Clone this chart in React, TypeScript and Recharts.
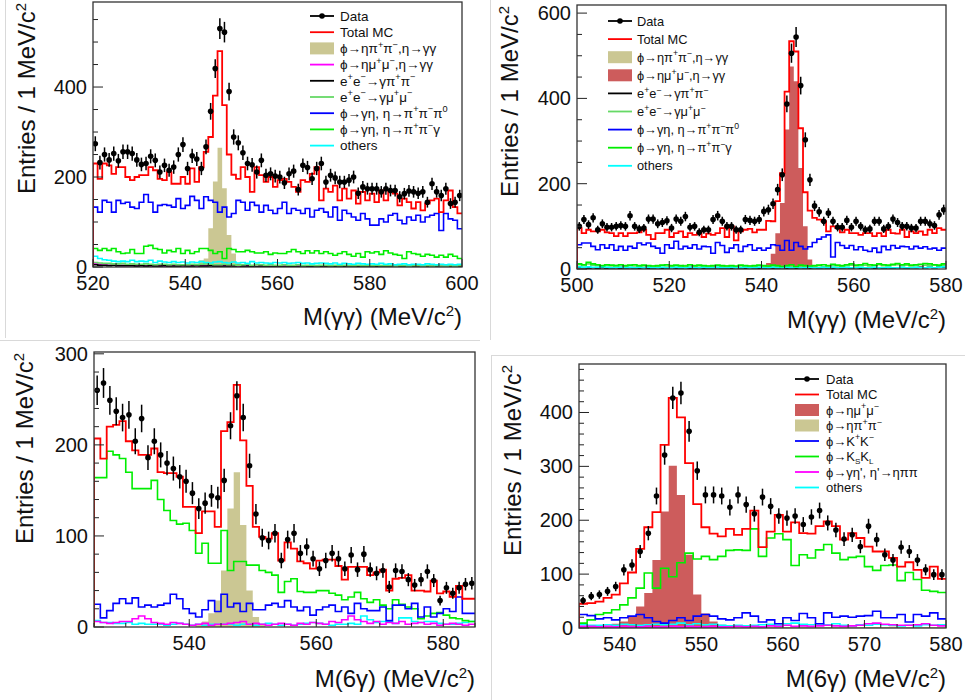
import React from "react";
import { Area, ComposedChart, ErrorBar, Line, Scatter, XAxis, YAxis } from "recharts";

const FONT = '"Liberation Sans", Arial, Helvetica, sans-serif';
const RED = "#ff0000";
const BLUE = "#0000ff";
const GREEN = "#00ee00";
const LTGREEN = "#66d966";
const CYAN = "#00ffff";
const MAGENTA = "#ff00ff";
const KHAKI = "#cbc793";
const REDFILL = "#cd5c5c";

// ---- panel 1: M(γγ), 520-600, 1 MeV bins ----
const p1Data = [
  274, 232, 250, 238, 252, 236, 256, 256, 252, 238,
  228, 230, 246, 237, 211, 226, 215, 222, 250, 272,
  219, 247, 240, 219, 267, 346, 441, 530, 522, 390,
  289, 276, 254, 230, 227, 211, 237, 204, 207, 202,
  200, 187, 207, 213, 172, 226, 221, 196, 219, 230,
  189, 204, 198, 189, 189, 193, 200, 164, 178, 174,
  174, 174, 167, 174, 170, 170, 156, 163, 169, 167,
  164, 167, 144, 185, 167, 159, 174, 141, 144, 159,
];
const p1Total = [
  230, 196, 230, 226, 207, 222, 222, 200, 193, 200,
  204, 204, 222, 215, 196, 193, 211, 185, 185, 200,
  185, 219, 189, 222, 256, 289, 381, 480, 360, 250,
  205, 196, 222, 200, 167, 222, 204, 189, 200, 178,
  193, 196, 189, 178, 167, 193, 189, 207, 222, 148,
  174, 167, 181, 148, 174, 152, 170, 141, 167, 148,
  163, 144, 170, 148, 167, 163, 137, 152, 144, 130,
  144, 126, 141, 148, 152, 122, 148, 170, 133, 119,
];
const p1Blue = [
  133, 122, 148, 144, 122, 148, 141, 144, 133, 130,
  144, 161, 144, 122, 137, 139, 137, 133, 152, 130,
  137, 157, 148, 130, 156, 148, 144, 122, 133, 111,
  119, 148, 144, 126, 144, 137, 122, 137, 126, 119,
  130, 144, 119, 130, 126, 119, 130, 111, 126, 130,
  122, 111, 133, 104, 126, 119, 111, 104, 119, 107,
  93, 93, 107, 100, 115, 119, 104, 96, 111, 104,
  115, 100, 111, 115, 119, 81, 119, 107, 104, 85,
];
const p1Green = [
  41, 37, 41, 37, 41, 34, 30, 31, 39, 30,
  30, 46, 48, 41, 39, 31, 37, 34, 41, 30,
  37, 30, 34, 41, 41, 37, 30, 34, 19, 41,
  39, 34, 34, 37, 34, 31, 31, 34, 28, 31,
  30, 30, 34, 39, 34, 30, 36, 31, 36, 30,
  34, 30, 26, 30, 34, 28, 24, 30, 22, 34,
  31, 34, 28, 36, 31, 28, 26, 19, 34, 30,
  28, 24, 28, 26, 22, 26, 22, 28, 24, 19,
];
const p1Cyan = [
  24, 19, 16, 15, 13, 12, 13, 12, 15, 12,
  13, 12, 15, 10, 13, 11, 10, 12, 10, 11,
  9, 11, 10, 12, 10, 9, 11, 12, 10, 9,
  11, 9, 10, 8, 12, 9, 10, 9, 8, 10,
  9, 10, 8, 9, 10, 8, 9, 7, 8, 9,
  8, 7, 9, 6, 8, 7, 6, 8, 7, 6,
  7, 6, 8, 6, 7, 5, 6, 7, 5, 6,
  6, 5, 7, 6, 5, 6, 5, 6, 5, 6,
];
const p1LtGreen = [
  10, 9, 8, 8, 7, 7, 8, 6, 7, 6,
  6, 7, 6, 5, 6, 6, 5, 6, 5, 5,
  5, 6, 5, 6, 7, 6, 5, 5, 6, 5,
  5, 4, 5, 6, 4, 5, 5, 4, 5, 4,
  4, 5, 4, 4, 5, 3, 4, 4, 3, 4,
  4, 3, 4, 3, 4, 3, 3, 4, 3, 3,
  3, 4, 3, 3, 3, 2, 3, 3, 2, 3,
  3, 2, 3, 2, 3, 2, 2, 3, 2, 3,
];
const p1Black = [
  5, 4, 4, 3, 4, 3, 3, 3, 3, 2,
  3, 2, 3, 2, 2, 3, 2, 2, 2, 3,
  2, 2, 3, 2, 2, 3, 2, 2, 2, 2,
  2, 3, 2, 2, 2, 1, 2, 2, 1, 2,
  2, 1, 2, 2, 1, 2, 1, 2, 1, 1,
  2, 1, 1, 2, 1, 1, 2, 1, 1, 1,
  1, 1, 2, 1, 1, 1, 1, 2, 1, 1,
  1, 1, 1, 1, 2, 1, 1, 1, 1, 1,
];
const p1Magenta = [
  8, 6, 5, 4, 4, 3, 3, 3, 3, 2,
  3, 2, 2, 3, 2, 2, 2, 2, 2, 2,
  2, 2, 2, 2, 3, 3, 3, 3, 3, 2,
  2, 2, 2, 2, 2, 1, 2, 2, 1, 2,
  1, 2, 1, 1, 2, 1, 1, 1, 1, 1,
  1, 1, 1, 1, 1, 1, 1, 1, 1, 1,
  1, 1, 1, 1, 1, 1, 1, 1, 1, 1,
  1, 1, 1, 1, 1, 1, 1, 1, 1, 1,
];
const p1Khaki = [3, 5, 8, 15, 19, 86, 190, 265, 175, 71, 30, 8, 3]; // from 540

// ---- panel 2: M(γγ), 500-580 ----
const p2Data = [
  100, 116, 104, 120, 92, 106, 98, 98, 100, 102,
  100, 125, 100, 94, 96, 117, 117, 106, 109, 113,
  96, 117, 112, 123, 98, 100, 86, 92, 92, 116,
  125, 112, 100, 100, 92, 92, 116, 114, 112, 116,
  135, 139, 153, 186, 221, 387, 506, 544, 430, 303,
  209, 148, 134, 112, 131, 112, 98, 98, 114, 98,
  112, 100, 92, 94, 112, 112, 94, 100, 117, 109,
  100, 100, 96, 96, 112, 112, 106, 102, 127, 139,
];
const p2Total = [
  96, 84, 92, 88, 88, 92, 86, 84, 77, 84,
  77, 84, 84, 86, 92, 80, 70, 84, 84, 92,
  75, 84, 88, 75, 84, 80, 84, 75, 83, 80,
  84, 96, 75, 100, 67, 88, 92, 94, 86, 92,
  92, 113, 112, 159, 225, 416, 534, 510, 330, 180,
  137, 120, 116, 112, 88, 100, 96, 86, 92, 84,
  84, 80, 84, 84, 77, 84, 77, 92, 84, 83,
  92, 75, 88, 84, 88, 80, 92, 84, 96, 92,
];
const p2Blue = [
  57, 61, 61, 53, 45, 57, 49, 57, 44, 53,
  44, 53, 49, 61, 57, 61, 53, 49, 37, 57,
  49, 65, 47, 53, 49, 57, 47, 53, 52, 37,
  62, 55, 39, 49, 57, 41, 53, 57, 44, 49,
  44, 49, 57, 55, 44, 67, 44, 62, 53, 47,
  52, 62, 70, 75, 80, 28, 62, 55, 49, 55,
  45, 52, 44, 41, 49, 39, 53, 45, 55, 49,
  53, 52, 47, 53, 49, 52, 47, 49, 44, 49,
];
const p2Green = [
  12, 10, 16, 12, 10, 8, 10, 9, 8, 10,
  8, 9, 10, 8, 9, 8, 7, 8, 9, 10,
  8, 9, 8, 7, 10, 8, 9, 8, 7, 8,
  9, 8, 7, 8, 7, 9, 8, 7, 8, 9,
  8, 7, 9, 8, 6, 8, 10, 6, 9, 8,
  7, 8, 9, 10, 8, 11, 9, 8, 10, 12,
  9, 10, 13, 10, 9, 12, 10, 9, 11, 13,
  10, 12, 9, 10, 11, 13, 12, 10, 9, 12,
];
const p2LtGreen = [
  10, 8, 12, 9, 8, 7, 8, 7, 8, 7,
  6, 8, 7, 6, 7, 6, 7, 6, 8, 7,
  6, 7, 6, 8, 7, 6, 7, 6, 7, 6,
  7, 6, 7, 6, 5, 7, 6, 7, 6, 7,
  6, 7, 6, 5, 6, 7, 6, 5, 7, 6,
  6, 7, 8, 6, 7, 8, 7, 6, 8, 9,
  7, 8, 9, 7, 8, 10, 8, 7, 9, 10,
  8, 9, 7, 8, 10, 9, 8, 9, 7, 9,
];
const p2Cyan = [
  5, 4, 5, 4, 4, 5, 4, 3, 4, 4,
  3, 4, 3, 4, 3, 4, 3, 3, 4, 3,
  3, 4, 3, 3, 4, 3, 3, 4, 3, 3,
  4, 3, 3, 4, 3, 3, 4, 3, 3, 4,
  3, 3, 4, 3, 3, 4, 3, 4, 3, 3,
  4, 3, 3, 4, 3, 4, 3, 3, 4, 3,
  3, 4, 3, 3, 4, 3, 3, 4, 3, 3,
  4, 3, 3, 4, 3, 3, 4, 3, 4, 5,
];
const p2Black = [
  3, 3, 2, 3, 2, 3, 2, 2, 3, 2,
  2, 3, 2, 2, 3, 2, 2, 3, 2, 2,
  3, 2, 2, 3, 2, 2, 3, 2, 2, 2,
  3, 2, 2, 2, 3, 2, 2, 3, 2, 2,
  2, 3, 2, 2, 3, 2, 2, 2, 3, 2,
  2, 3, 2, 3, 2, 2, 3, 2, 3, 2,
  3, 2, 2, 3, 2, 3, 2, 3, 2, 3,
  3, 2, 3, 3, 4, 3, 4, 3, 5, 4,
];
const p2RedFill = [2, 4, 6, 14, 36, 84, 155, 327, 475, 440, 237, 100, 22, 6, 2]; // from 538
const p2Khaki = [1, 1, 2, 2, 3, 3, 2, 1]; // from 542

// ---- panel 3: M(6γ), 525-585 ----
const p3Data = [
  260, 268, 249, 237, 230, 233, 204, 229, 186, 204,
  189, 180, 174, 165, 160, 147, 130, 136, 144, 142,
  161, 221, 254, 230, 177, 124, 98, 95, 103, 73,
  96, 103, 81, 88, 75, 64, 73, 81, 75, 64,
  79, 63, 80, 63, 59, 62, 44, 62, 61, 52,
  46, 52, 61, 51, 29, 43, 37, 43, 47, 48,
];
const p3Total = [
  207, 185, 220, 222, 226, 204, 194, 189, 189, 196,
  170, 169, 169, 165, 132, 132, 103, 127, 127, 110,
  215, 225, 266, 205, 155, 110, 99, 97, 103, 73,
  93, 86, 72, 70, 64, 73, 74, 74, 67, 52,
  66, 66, 66, 57, 60, 63, 40, 53, 54, 57,
  40, 40, 39, 51, 37, 39, 33, 45, 31, 31,
];
const p3Green = [
  164, 164, 193, 189, 185, 170, 152, 152, 152, 161,
  140, 128, 117, 113, 114, 106, 81, 92, 70, 70,
  106, 62, 72, 72, 68, 68, 62, 60, 57, 38,
  50, 53, 39, 38, 38, 40, 40, 37, 35, 30,
  33, 38, 31, 27, 30, 24, 20, 30, 25, 22,
  20, 9, 12, 15, 16, 13, 10, 9, 7, 6,
];
const p3Blue = [
  25, 10, 18, 26, 31, 26, 32, 22, 24, 22,
  24, 26, 36, 31, 20, 15, 11, 19, 29, 17,
  36, 22, 26, 17, 26, 19, 19, 24, 26, 22,
  29, 22, 18, 22, 13, 19, 22, 24, 17, 22,
  15, 26, 20, 18, 18, 22, 7, 24, 24, 20,
  26, 11, 22, 11, 15, 20, 17, 33, 15, 15,
];
const p3Magenta = [
  6, 5, 4, 5, 6, 6, 9, 12, 9, 5,
  4, 3, 5, 4, 3, 2, 3, 4, 2, 3,
  3, 4, 5, 6, 3, 4, 3, 2, 3, 4,
  3, 2, 4, 3, 5, 4, 3, 6, 5, 8,
  12, 8, 6, 4, 6, 3, 5, 4, 6, 3,
  4, 5, 3, 4, 2, 3, 4, 3, 2, 3,
];
const p3Cyan = [
  7, 5, 5, 4, 4, 5, 3, 4, 3, 3,
  3, 2, 3, 4, 3, 2, 3, 2, 3, 3,
  3, 3, 2, 3, 3, 2, 3, 4, 3, 2,
  3, 2, 3, 4, 5, 4, 3, 2, 3, 3,
  4, 3, 12, 8, 5, 6, 6, 4, 10, 10,
  6, 5, 6, 6, 4, 3, 3, 4, 5, 6,
];
const p3Khaki = [3, 6, 15, 29, 62, 130, 170, 112, 40, 11, 3]; // from 541

// ---- panel 4: M(6γ), 535-580 ----
const p4Data = [
  51, 59, 62, 68, 77, 108, 117, 142, 176, 245,
  321, 427, 436, 365, 292, 247, 247, 245, 224, 247,
  229, 212, 243, 226, 208, 204, 208, 192, 206, 218,
  195, 182, 165, 173, 151, 189, 164, 136, 126, 150,
  142, 126, 108, 99, 99,
];
const p4Total = [
  45, 46, 49, 56, 62, 83, 103, 147, 187, 215,
  340, 427, 391, 306, 230, 187, 175, 170, 184, 173,
  184, 218, 150, 179, 210, 179, 196, 176, 175, 189,
  198, 189, 164, 176, 167, 151, 142, 142, 130, 114,
  122, 108, 93, 114, 91,
];
const p4Green = [
  9, 15, 25, 28, 34, 43, 56, 74, 102, 74,
  111, 95, 121, 139, 128, 133, 127, 133, 144, 145,
  144, 184, 133, 167, 175, 164, 116, 136, 130, 145,
  155, 139, 127, 131, 133, 114, 107, 116, 117, 88,
  103, 90, 70, 68, 66,
];
const p4Blue = [
  25, 23, 17, 19, 15, 19, 22, 25, 19, 12,
  9, 14, 19, 14, 22, 25, 22, 17, 15, 19,
  28, 22, 11, 15, 8, 19, 14, 27, 19, 8,
  28, 20, 22, 20, 22, 23, 31, 19, 19, 25,
  11, 25, 22, 28, 17,
];
const p4Magenta = [
  3, 3, 2, 3, 2, 3, 2, 2, 3, 2,
  2, 3, 2, 3, 2, 2, 3, 2, 2, 3,
  2, 3, 2, 4, 3, 5, 3, 4, 3, 4,
  5, 4, 3, 4, 5, 8, 9, 7, 6, 5,
  5, 6, 8, 5, 4,
];
const p4Cyan = [
  6, 5, 5, 6, 5, 7, 6, 5, 6, 7,
  6, 7, 9, 6, 8, 6, 7, 5, 4, 5,
  4, 5, 6, 7, 5, 8, 9, 7, 6, 8,
  6, 8, 5, 4, 6, 5, 7, 6, 5, 4,
  5, 4, 6, 5, 6,
];
const p4Khaki = [
  2, 2, 2, 2, 3, 2, 3, 3, 2, 3,
  3, 2, 3, 2, 3, 2, 2, 3, 2, 2,
  3, 2, 2, 3, 2, 2, 2, 3, 2, 2,
  2, 2, 3, 2, 2, 2, 2, 2, 3, 2,
  2, 2, 2, 2, 2,
];
const p4RedFill = [2, 3, 4, 8, 12, 22, 40, 65, 126, 216, 301, 247, 136, 62, 27, 12, 6]; // from 536

// axis tick labels
const p1XMajor = [520, 540, 560, 580, 600];
const p1YMajor = [0, 200, 400];
const p2XMajor = [500, 520, 540, 560, 580];
const p2YMajor = [0, 200, 400, 600];
const p3XMajor = [540, 560, 580];
const p3YMajor = [0, 100, 200, 300];
const p4XMajor = [540, 550, 560, 570, 580];
const p4YMajor = [0, 100, 200, 300, 400];

const range = (a: number, b: number, s: number) => {
  const out: number[] = [];
  for (let v = a; v <= b + 1e-9; v += s) out.push(v);
  return out;
};

type Pt = { x: number; y: number };
const hist = (x0: number, vals: number[]): Pt[] => {
  const pts: Pt[] = [{ x: x0, y: 0 }];
  vals.forEach((v, i) => pts.push({ x: x0 + i, y: v }));
  pts.push({ x: x0 + vals.length, y: vals[vals.length - 1] });
  return pts;
};
const points = (x0: number, vals: number[]) =>
  vals.map((v, i) => ({ x: x0 + i + 0.5, y: v, e: Math.sqrt(v) }));

const AXW = 60; // y axis band width
const AXH = 40; // x axis band height

type Cfg = {
  w: number;
  h: number;
  pl: number; // plot left
  pt: number; // plot top
  pr: number; // plot right
  pb: number; // plot bottom
  x0: number;
  x1: number;
  yMax: number;
  xTicks: number[];
  xMajor: number[];
  yTicks: number[];
  yMajor: number[];
  fills: { x0: number; v: number[]; c: string }[];
  lines: { v: number[]; c: string }[];
  total: number[];
  data: number[];
};

function Panel({ cfg }: { cfg: Cfg }) {
  const { w, h, pl, pt, pr, pb, x0, x1, yMax } = cfg;
  const margin = { top: pt, left: pl - AXW, right: w - pr, bottom: h - pb - AXH };
  return (
    <ComposedChart width={w} height={h} margin={margin}>
      <XAxis
        type="number"
        dataKey="x"
        domain={[x0, x1]}
        allowDataOverflow
        ticks={cfg.xTicks}
        interval={0}
        height={AXH}
        axisLine={false}
        tickLine={false}
        tick={(p: any) => {
          const v = p.payload.value;
          const big = cfg.xMajor.includes(v);
          return (
            <g>
              <line x1={p.x} x2={p.x} y1={pb} y2={pb - (big ? 8 : 4)} stroke="#222" />
              {big && (
                <text x={p.x} y={pb + 23} textAnchor="middle" fontSize={20} fontFamily={FONT} fill="#111">
                  {v}
                </text>
              )}
            </g>
          );
        }}
      />
      <YAxis
        type="number"
        domain={[0, yMax]}
        allowDataOverflow
        ticks={cfg.yTicks}
        interval={0}
        width={AXW}
        axisLine={false}
        tickLine={false}
        tick={(p: any) => {
          const v = p.payload.value;
          const big = cfg.yMajor.includes(v);
          return (
            <g>
              <line x1={pl} x2={pl + (big ? 10 : 5)} y1={p.y} y2={p.y} stroke="#222" />
              {big && (
                <text x={pl - 6} y={p.y + 7} textAnchor="end" fontSize={20} fontFamily={FONT} fill="#111">
                  {v}
                </text>
              )}
            </g>
          );
        }}
      />
      {cfg.fills.map((f, i) => (
        <Area
          key={`f${i}`}
          data={hist(f.x0, f.v)}
          dataKey="y"
          type="stepAfter"
          fill={f.c}
          fillOpacity={1}
          stroke="none"
          isAnimationActive={false}
        />
      ))}
      {cfg.lines.map((l, i) => (
        <Line
          key={`l${i}`}
          data={hist(x0, l.v)}
          dataKey="y"
          type="stepAfter"
          stroke={l.c}
          strokeWidth={1.6}
          dot={false}
          isAnimationActive={false}
        />
      ))}
      <Line
        data={hist(x0, cfg.total)}
        dataKey="y"
        type="stepAfter"
        stroke={RED}
        strokeWidth={1.8}
        dot={false}
        isAnimationActive={false}
      />
      <Scatter
        data={points(x0, cfg.data)}
        dataKey="y"
        fill="#000"
        isAnimationActive={false}
        shape={(p: any) => <circle cx={p.cx} cy={p.cy} r={2.8} fill="#000" />}
      >
        <ErrorBar dataKey="e" direction="y" width={0} stroke="#000" strokeWidth={1.5} />
      </Scatter>
    </ComposedChart>
  );
}

// text with ^{..} and _{..} markup to svg tspans
function rich(s: string, fs: number) {
  const parts = s.split(/(\^\{[^}]*\}|_\{[^}]*\})/).filter(Boolean);
  let shift = 0;
  return parts.map((p, i) => {
    if (p.startsWith("^{")) {
      const d = -fs * 0.42 - shift;
      shift = -fs * 0.42;
      return (
        <tspan key={i} dy={d} fontSize={fs * 0.68}>
          {p.slice(2, -1)}
        </tspan>
      );
    }
    if (p.startsWith("_{")) {
      const d = fs * 0.25 - shift;
      shift = fs * 0.25;
      return (
        <tspan key={i} dy={d} fontSize={fs * 0.62}>
          {p.slice(2, -1)}
        </tspan>
      );
    }
    const d = -shift;
    shift = 0;
    return (
      <tspan key={i} dy={d}>
        {p}
      </tspan>
    );
  });
}

type LegItem = { t: string; k: "data" | "line" | "fill"; c?: string };
const legend1: LegItem[] = [
  { t: "Data", k: "data" },
  { t: "Total MC", k: "line", c: RED },
  { t: "ϕ→ηπ^{+}π^{−},η→γγ", k: "fill", c: KHAKI },
  { t: "ϕ→ημ^{+}μ^{−},η→γγ", k: "line", c: MAGENTA },
  { t: "e^{+}e^{−}→γπ^{+}π^{−}", k: "line", c: "#000" },
  { t: "e^{+}e^{−}→γμ^{+}μ^{−}", k: "line", c: LTGREEN },
  { t: "ϕ→γη, η→π^{+}π^{−}π^{0}", k: "line", c: BLUE },
  { t: "ϕ→γη, η→π^{+}π^{−}γ", k: "line", c: GREEN },
  { t: "others", k: "line", c: CYAN },
];
const legend2: LegItem[] = [
  { t: "Data", k: "data" },
  { t: "Total MC", k: "line", c: RED },
  { t: "ϕ→ηπ^{+}π^{−},η→γγ", k: "fill", c: KHAKI },
  { t: "ϕ→ημ^{+}μ^{−},η→γγ", k: "fill", c: REDFILL },
  { t: "e^{+}e^{−}→γπ^{+}π^{−}", k: "line", c: "#000" },
  { t: "e^{+}e^{−}→γμ^{+}μ^{−}", k: "line", c: LTGREEN },
  { t: "ϕ→γη, η→π^{+}π^{−}π^{0}", k: "line", c: BLUE },
  { t: "ϕ→γη, η→π^{+}π^{−}γ", k: "line", c: GREEN },
  { t: "others", k: "line", c: CYAN },
];
const legend4: LegItem[] = [
  { t: "Data", k: "data" },
  { t: "Total MC", k: "line", c: RED },
  { t: "ϕ→ημ^{+}μ^{−}", k: "fill", c: REDFILL },
  { t: "ϕ→ηπ^{+}π^{−}", k: "fill", c: KHAKI },
  { t: "ϕ→K^{+}K^{−}", k: "line", c: BLUE },
  { t: "ϕ→K_{S}K_{L}", k: "line", c: GREEN },
  { t: "ϕ→γη', η'→ηππ", k: "line", c: MAGENTA },
  { t: "others", k: "line", c: CYAN },
];

function Legend({ items, sx, tx, y0, dy, fs }: { items: LegItem[]; sx: number; tx: number; y0: number; dy: number; fs: number }) {
  return (
    <g>
      {items.map((it, i) => {
        const cy = y0 + i * dy;
        return (
          <g key={i}>
            {it.k === "fill" ? (
              <rect x={sx} y={cy - 6} width={24} height={12} fill={it.c} />
            ) : (
              <line x1={sx} x2={sx + 24} y1={cy} y2={cy} stroke={it.k === "data" ? "#000" : it.c} strokeWidth={1.8} />
            )}
            {it.k === "data" && <circle cx={sx + 12} cy={cy} r={2.8} fill="#000" />}
            <text x={tx} y={cy + fs * 0.36} fontSize={fs} fontFamily={FONT} fill="#111">
              {rich(it.t, fs)}
            </text>
          </g>
        );
      })}
    </g>
  );
}

function YTitle({ x, y }: { x: number; y: number }) {
  return (
    <text transform={`translate(${x},${y}) rotate(-90)`} textAnchor="end" fontSize={24} fontFamily={FONT} fill="#111">
      Entries / 1 MeV/c<tspan dy={-9} fontSize={15}>2</tspan>
    </text>
  );
}
function XTitle({ x, y, m }: { x: number; y: number; m: string }) {
  return (
    <text x={x} y={y} textAnchor="end" fontSize={24} fontFamily={FONT} fill="#111">
      M({m}) (MeV/c<tspan dy={-9} fontSize={15}>2</tspan>
      <tspan dy={9}>)</tspan>
    </text>
  );
}

export default function App() {
  const c1: Cfg = {
    w: 480, h: 340, pl: 93, pt: 2, pr: 462, pb: 267,
    x0: 520, x1: 600, yMax: 589,
    xTicks: range(520, 600, 5), xMajor: p1XMajor,
    yTicks: range(0, 550, 50), yMajor: p1YMajor,
    fills: [{ x0: 540, v: p1Khaki, c: KHAKI }],
    lines: [
      { v: p1Magenta, c: MAGENTA },
      { v: p1Black, c: "#000" },
      { v: p1LtGreen, c: LTGREEN },
      { v: p1Cyan, c: CYAN },
      { v: p1Green, c: GREEN },
      { v: p1Blue, c: BLUE },
    ],
    total: p1Total, data: p1Data,
  };
  const c2: Cfg = {
    w: 485, h: 340, pl: 97, pt: 5, pr: 466, pb: 269,
    x0: 500, x1: 580, yMax: 619,
    xTicks: range(500, 580, 5), xMajor: p2XMajor,
    yTicks: range(0, 600, 50), yMajor: p2YMajor,
    fills: [
      { x0: 538, v: p2RedFill, c: REDFILL },
      { x0: 542, v: p2Khaki, c: KHAKI },
    ],
    lines: [
      { v: p2Black, c: "#000" },
      { v: p2LtGreen, c: LTGREEN },
      { v: p2Cyan, c: CYAN },
      { v: p2Green, c: GREEN },
      { v: p2Blue, c: BLUE },
    ],
    total: p2Total, data: p2Data,
  };
  const c3: Cfg = {
    w: 480, h: 360, pl: 94, pt: 12, pr: 475, pb: 287,
    x0: 525, x1: 585, yMax: 302,
    xTicks: range(525, 585, 5), xMajor: p3XMajor,
    yTicks: range(0, 300, 20), yMajor: p3YMajor,
    fills: [{ x0: 541, v: p3Khaki, c: KHAKI }],
    lines: [
      { v: p3Cyan, c: CYAN },
      { v: p3Magenta, c: MAGENTA },
      { v: p3Green, c: GREEN },
      { v: p3Blue, c: BLUE },
    ],
    total: p3Total, data: p3Data,
  };
  const c4: Cfg = {
    w: 485, h: 360, pl: 99, pt: 24, pr: 466, pb: 288,
    x0: 535, x1: 580, yMax: 490,
    xTicks: range(536, 580, 2), xMajor: p4XMajor,
    yTicks: range(0, 480, 20), yMajor: p4YMajor,
    fills: [
      { x0: 535, v: p4Khaki, c: KHAKI },
      { x0: 536, v: p4RedFill, c: REDFILL },
    ],
    lines: [
      { v: p4Cyan, c: CYAN },
      { v: p4Magenta, c: MAGENTA },
      { v: p4Green, c: GREEN },
      { v: p4Blue, c: BLUE },
    ],
    total: p4Total, data: p4Data,
  };

  const abs = (left: number, top: number): React.CSSProperties => ({ position: "absolute", left, top });

  return (
    <div style={{ position: "absolute", left: 0, top: 0, width: 965, height: 700, background: "#fff", overflow: "hidden" }}>
      <div style={abs(0, 0)}><Panel cfg={c1} /></div>
      <div style={abs(480, 0)}><Panel cfg={c2} /></div>
      <div style={abs(0, 340)}><Panel cfg={c3} /></div>
      <div style={abs(480, 340)}><Panel cfg={c4} /></div>
      <svg width={965} height={700} style={{ position: "absolute", left: 0, top: 0, pointerEvents: "none" }}>
        {/* image borders */}
        <line x1={5.5} x2={5.5} y1={0} y2={338} stroke="#d9d9d9" />
        <line x1={0} x2={480} y1={340.5} y2={340.5} stroke="#d9d9d9" />
        <line x1={490.5} x2={490.5} y1={0} y2={340} stroke="#d9d9d9" />
        <line x1={491} x2={965} y1={355.5} y2={355.5} stroke="#d9d9d9" />
        <line x1={491.5} x2={491.5} y1={355} y2={700} stroke="#d9d9d9" />
        {/* plot frames */}
        <rect x={93} y={2} width={369} height={265} fill="none" stroke="#333" strokeWidth={1.3} />
        <rect x={577} y={5} width={369} height={264} fill="none" stroke="#333" strokeWidth={1.3} />
        <rect x={94} y={352} width={381} height={275} fill="none" stroke="#333" strokeWidth={1.3} />
        <rect x={579} y={364} width={367} height={264} fill="none" stroke="#333" strokeWidth={1.3} />
        {/* titles */}
        <YTitle x={35} y={3} />
        <YTitle x={518} y={6} />
        <YTitle x={33} y={353} />
        <YTitle x={521} y={365} />
        <XTitle x={462} y={325} m="γγ" />
        <XTitle x={946} y={328} m="γγ" />
        <XTitle x={475} y={687} m="6γ" />
        <XTitle x={946} y={687} m="6γ" />
        {/* legends */}
        <Legend items={legend1} sx={310} tx={340} y0={16} dy={16.2} fs={13.5} />
        <Legend items={legend2} sx={608} tx={637} y0={21} dy={18.1} fs={12.8} />
        <Legend items={legend4} sx={795} tx={826} y0={379} dy={15.5} fs={13} />
      </svg>
    </div>
  );
}
